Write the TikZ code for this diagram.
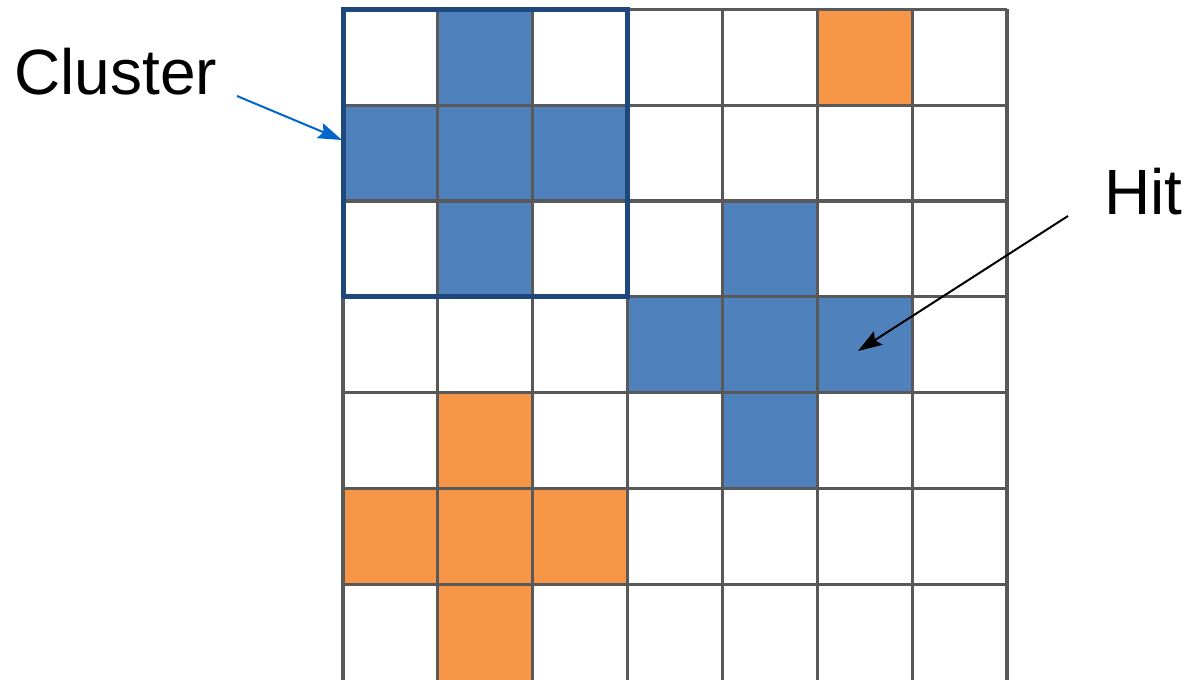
\documentclass[tikz,border=0pt]{standalone}
\usepackage{fontspec}
\setmainfont{Liberation Sans}
\usetikzlibrary{arrows.meta}
\definecolor{gridgray}{HTML}{595959}
\definecolor{cellblue}{HTML}{4F81BD}
\definecolor{cellorange}{HTML}{F79646}
\definecolor{boxblue}{HTML}{1F497D}
\definecolor{arrowblue}{HTML}{0066CC}
\tikzset{
  label text/.style={inner sep=0pt, anchor=base west, font=\fontsize{48}{58}\selectfont},
  gridline/.style={draw=gridgray, line width=2.4pt},
  clusterbox/.style={draw=boxblue, line width=3.75pt},
  pointer/.style={line width=1.5pt, -{Stealth[length=18pt,width=12pt,inset=3pt]}},
}
\begin{document}
\begin{tikzpicture}[x=0.75pt,y=-0.75pt]
\useasboundingbox (0,0) rectangle (1186,680);
\fill[white] (0,0) rectangle (1186,680);
% cell fills (col,row)
\def\cw{94.857}
\def\ch{95.786}
\foreach \c/\r in {1/0,0/1,1/1,2/1,1/2,4/2,3/3,4/3,5/3,4/4}
  \fill[cellblue] ({343+\c*\cw},{9.5+\r*\ch}) rectangle ++(\cw,\ch);
\foreach \c/\r in {5/0,1/4,0/5,1/5,2/5,1/6}
  \fill[cellorange] ({343+\c*\cw},{9.5+\r*\ch}) rectangle ++(\cw,\ch);
% grid lines
\foreach \i in {0,...,7}
  \draw[gridline] ({343+\i*\cw},9.5) -- ({343+\i*\cw},681);
\foreach \j in {0,...,6}
  \draw[gridline] (343,{9.5+\j*\ch}) -- (1007,{9.5+\j*\ch});
% cluster box
\draw[clusterbox] (343,9.5) rectangle ({343+3*\cw},{9.5+3*\ch});
% labels
\node[label text] (cluster) at (14,95) {Cluster};
\node[label text] (hit) at (1104,215) {Hit};
\coordinate (cstart) at (237,96);
\coordinate (ctip) at (342,140);
\coordinate (hstart) at (1068,216);
\coordinate (htip) at (858,351);
\draw[pointer, draw=arrowblue, fill=arrowblue] (cstart) -- (ctip);
\draw[pointer, draw=black, fill=black] (hstart) -- (htip);
\end{tikzpicture}
\end{document}
